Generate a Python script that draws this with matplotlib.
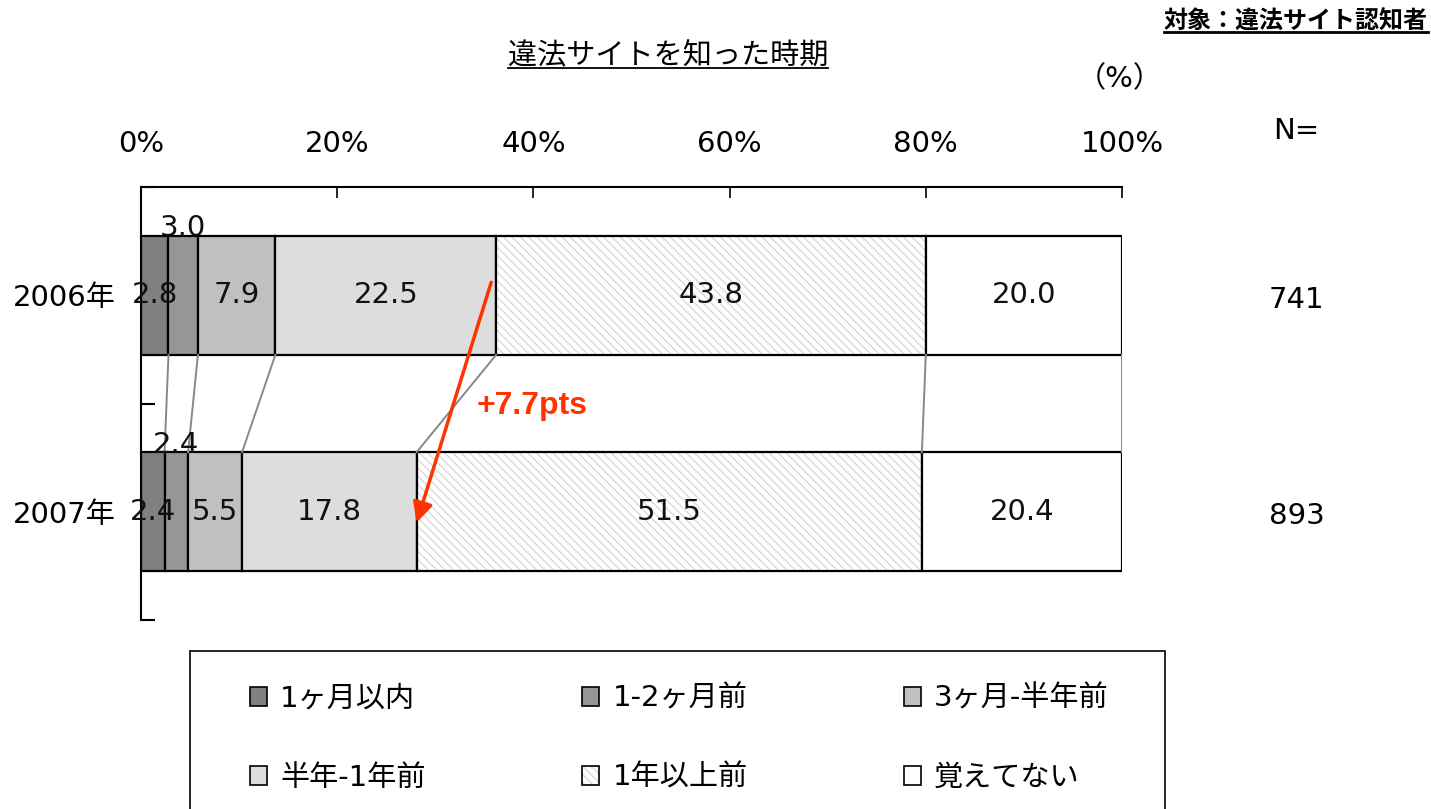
import matplotlib
matplotlib.use('Agg')
import matplotlib.pyplot as plt
from matplotlib.patches import Patch, Rectangle
from matplotlib.lines import Line2D

plt.rcParams['font.family'] = ['DejaVu Sans', 'Noto Sans CJK JP']
plt.rcParams['hatch.linewidth'] = 0.8

years = ['2006年', '2007年']
n_values = ['741', '893']
categories = ['1ヶ月以内', '1-2ヶ月前', '3ヶ月-半年前', '半年-1年前', '1年以上前', '覚えてない']
values_2006 = [2.8, 3.0, 7.9, 22.5, 43.8, 20.0]
values_2007 = [2.4, 2.4, 5.5, 17.8, 51.5, 20.4]
labels_2006 = ['2.8', '3.0', '7.9', '22.5', '43.8', '20.0']
labels_2007 = ['2.4', '2.4', '5.5', '17.8', '51.5', '20.4']
xtick_vals = [0, 20, 40, 60, 80, 100]
diff_text = '+7.7pts'

colors = ['#808080', '#969696', '#c0c0c0', '#dddddd', 'white', 'white']
hatches = [None, None, None, None, '\\\\\\\\', None]
hatch_col = '#d4d4d4'
red = '#ff3300'
fs = 21

fig = plt.figure(figsize=(14.31, 8.09), dpi=100)
W, H = 1431, 809
ax = fig.add_axes([141 / W, 1 - 620 / H, 981 / W, 433 / H])

bar_h = 0.55
rows = [values_2006, values_2007]
row_labels = [labels_2006, labels_2007]
cums = []
for r, vals in enumerate(rows):
    left = 0
    edges = []
    for i, v in enumerate(vals):
        if hatches[i]:
            ax.barh(r, v, left=left, height=bar_h, color=colors[i], edgecolor=hatch_col,
                    hatch=hatches[i], linewidth=0)
            ax.barh(r, v, left=left, height=bar_h, fill=False, edgecolor='black', linewidth=1.6)
        else:
            ax.barh(r, v, left=left, height=bar_h, color=colors[i], edgecolor='black', linewidth=1.6)
        # value labels; the second small segment is lifted to the top edge
        cx = left + v / 2
        cy = r
        if i == 1:
            cy = r - bar_h / 2 - 0.035
        ax.text(cx, cy, row_labels[r][i], ha='center', va='center', fontsize=fs, color='#111111')
        left += v
        edges.append(left)
    cums.append(edges)

# connector lines between the two bars
for a, b in zip(cums[0], cums[1]):
    ax.plot([a, b], [0 + bar_h / 2, 1 - bar_h / 2], color='#888888', lw=1.4, zorder=1)

ax.set_xlim(0, 100)
ax.set_ylim(1.5, -0.5)
ax.xaxis.tick_top()
ax.set_xticks(xtick_vals)
ax.set_xticklabels([f'{v}%' for v in xtick_vals], fontsize=fs)
ax.tick_params(axis='x', direction='in', length=8, width=1.2, pad=21)
ax.set_yticks([0, 1])
ax.set_yticklabels(years, fontsize=fs)
ax.tick_params(axis='y', which='major', length=0, pad=18)
ax.set_yticks([-0.5, 0.5, 1.5], minor=True)
ax.tick_params(axis='y', which='minor', direction='in', length=10, width=1.5)
for s in ['right', 'bottom']:
    ax.spines[s].set_visible(False)
ax.spines['top'].set_linewidth(1.5)
ax.spines['left'].set_linewidth(1.5)

# N column
ax.text(117.8, -0.76, 'N=', ha='center', va='center', fontsize=fs, clip_on=False)
for r, n in enumerate(n_values):
    ax.text(117.8, r + 0.02, n, ha='center', va='center', fontsize=fs, clip_on=False)
ax.text(99.8, -1.0, '（%）', ha='center', va='center', fontsize=fs, clip_on=False)

# change arrow
ax.annotate('', xy=(cums[1][3], 1.05), xytext=(cums[0][3] - 0.5, -0.06),
            arrowprops=dict(arrowstyle='-|>', color=red, lw=2.5, mutation_scale=30, shrinkA=0, shrinkB=0))
ax.text(34.2, 0.51, diff_text, color=red, fontsize=23, fontweight='bold', ha='left', va='center',
        family='Liberation Sans')

# titles with underline
t1 = fig.text(668 / W, 1 - 56 / H, '違法サイトを知った時期', ha='center', va='center', fontsize=21)
t2 = fig.text(1428 / W, 1 - 22 / H, '対象：違法サイト認知者', ha='right', va='center', fontsize=17.3,
              fontweight='bold')
fig.canvas.draw()
renderer = fig.canvas.get_renderer()
for t, lw in [(t1, 1.3), (t2, 2)]:
    bb = t.get_window_extent(renderer).transformed(fig.transFigure.inverted())
    fig.add_artist(Line2D([bb.x0, bb.x1], [bb.y0 + 0.002, bb.y0 + 0.002], color='black', lw=lw,
                          transform=fig.transFigure))

# legend (filled row by row, like the original)
handles = []
for i, c in enumerate(categories):
    if hatches[i]:
        handles.append((Patch(facecolor='white', edgecolor=hatch_col, hatch=hatches[i], linewidth=0),
                        Patch(fill=False, edgecolor='black', linewidth=1.2)))
    else:
        handles.append(Patch(facecolor=colors[i], edgecolor='black', linewidth=1.2))
order = [0, 3, 1, 4, 2, 5]
fig.add_artist(Rectangle((190 / W, -0.05), 975 / W, 0.05 + (809 - 651) / H, transform=fig.transFigure,
                         fill=False, edgecolor='black', lw=1.2))
fig.legend([handles[i] for i in order], [categories[i] for i in order], loc='upper left',
           bbox_to_anchor=(235 / W, 1 - 670 / H), ncol=3, frameon=False, fontsize=fs,
           handlelength=0.6, handleheight=0.6, handletextpad=0.45,
           columnspacing=5.35, labelspacing=1.75, borderpad=0)

fig.savefig('out.png', dpi=100)
